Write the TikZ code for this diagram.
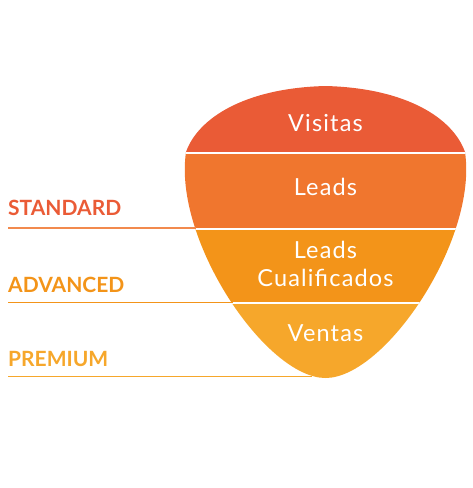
\documentclass[tikz,border=0pt]{standalone}
\usepackage{fontspec}
\setmainfont{Lato}
\definecolor{cVis}{HTML}{EA5B36}
\definecolor{cLeads}{HTML}{F0762E}
\definecolor{cLC}{HTML}{F39419}
\definecolor{cVen}{HTML}{F6A72B}
\tikzset{
  lbl/.style={anchor=base west, inner sep=0pt, font=\fontsize{21}{24}\selectfont\bfseries},
  ftext/.style={anchor=base, inner sep=0pt, text=white, font=\fontsize{23.5}{26}\selectfont\addfontfeature{LetterSpace=5}},
  lline/.style={line width=1.4pt},
  gap/.style={white, line width=2pt}
}
\begin{document}
\begin{tikzpicture}[x=1pt,y=-1pt]
\useasboundingbox (0,0) rectangle (472,488);
\def\funnelpath{(186,152) .. controls (198,118) and (245,88) .. (325.5,86) .. controls (406,88) and (453,118) .. (465,152) .. controls (478,240) and (385,378) .. (325.5,378) .. controls (266,378) and (173,240) .. (186,152) -- cycle}
\begin{scope}
  \clip \funnelpath;
  \fill[cVis] (150,70) rectangle (500,153);
  \fill[cLeads] (150,153) rectangle (500,228);
  \fill[cLC] (150,228) rectangle (500,303);
  \fill[cVen] (150,303) rectangle (500,390);
  \draw[gap] (150,153) -- (500,153);
  \draw[gap] (150,228.5) -- (500,228.5);
  \draw[gap] (150,303) -- (500,303);
\end{scope}
% funnel texts
\node[ftext] (vis) at (325.5,131) {Visitas};
\node[ftext] (leads) at (325.5,195) {Leads};
\node[ftext] (lc1) at (325.5,258) {Leads};
\node[ftext] (lc2) at (325.5,286) {Cualificados};
\node[ftext] (ven) at (325.5,341) {Ventas};
% labels
\node[lbl, text=cVis] (std) at (8,215) {STANDARD};
\node[lbl, text=cLC] (adv) at (8,292) {ADVANCED};
\node[lbl, text=cVen] (pre) at (8,366) {PREMIUM};
% label lines
\coordinate (s0) at (8,228);
\coordinate (s1) at (196,228);
\coordinate (a0) at (8,302.5);
\coordinate (a1) at (233,302.5);
\coordinate (p0) at (8,376.5);
\coordinate (p1) at (312,376.5);
\draw[lline, cLeads!85!white] (s0) -- (s1);
\draw[lline, cLC] (a0) -- (a1);
\draw[lline, cVen] (p0) -- (p1);
\end{tikzpicture}
\end{document}
